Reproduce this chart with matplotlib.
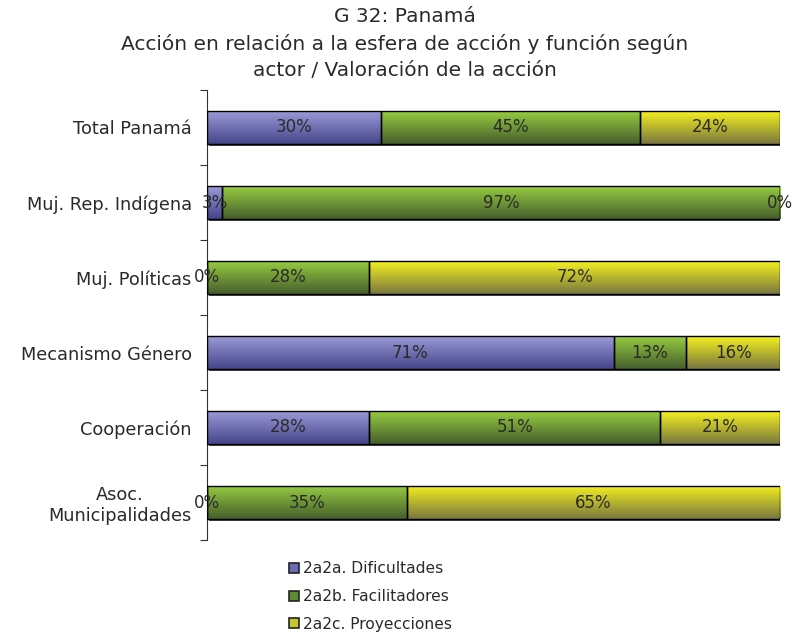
import numpy as np
import matplotlib
matplotlib.use('Agg')
import matplotlib.pyplot as plt
import matplotlib.patheffects as pe
from matplotlib.colors import LinearSegmentedColormap
from matplotlib.lines import Line2D

actores = ['Total Panamá', 'Muj. Rep. Indígena', 'Muj. Políticas',
           'Mecanismo Género', 'Cooperación', 'Asoc.\nMunicipalidades']
dificultades = [30.4, 2.6, 0.0, 71.0, 28.3, 0.0]
facilitadores = [45.2, 97.4, 28.3, 12.6, 50.8, 34.9]
proyecciones = [24.4, 0.0, 71.7, 16.4, 20.9, 65.1]
series_names = ['2a2a. Dificultades', '2a2b. Facilitadores', '2a2c. Proyecciones']

# top and bottom colour of each gradient
grad = [('#9a9ad8', '#45458a'), ('#96cc40', '#465f2c'), ('#f4f020', '#7a7840')]

plt.rcParams['font.family'] = 'DejaVu Sans'
fig = plt.figure(figsize=(8.09, 6.37), dpi=100)
ax = fig.add_axes([207/809, 1-540/637, 573/809, 450/637])

ypos = np.arange(len(actores))
h = 0.44
left = np.zeros(len(actores))
for vals, (ctop, cbot) in zip([dificultades, facilitadores, proyecciones], grad):
    cmap = LinearSegmentedColormap.from_list('g', [cbot, ctop])
    bars = ax.barh(ypos, vals, height=h, left=left, color='none', edgecolor='black',
                   linewidth=1.0, zorder=3)
    for b, v, l in zip(bars, vals, left):
        if v > 0:
            shadow = ax.barh(b.get_y() + h/2, v, height=h, left=l, color='white',
                             edgecolor='none', zorder=1)[0]
            shadow.set_path_effects([pe.SimplePatchShadow(offset=(1.5, -1.5),
                                     shadow_rgbFace='#333333', alpha=0.9)])
            im = ax.imshow(np.linspace(0, 1, 50).reshape(-1, 1), cmap=cmap,
                           aspect='auto', zorder=2,
                           extent=[l, l + v, b.get_y() + h, b.get_y()],
                           origin='lower')
            im.set_clip_path(b)
        ax.text(l + v/2, b.get_y() + h/2, f'{v:.0f}%', ha='center', va='center',
                fontsize=12, color='#2a2a2a', zorder=4)
    left = left + np.array(vals)

ax.set_xlim(0, 100)
ax.set_ylim(len(actores) - 0.5, -0.5)
for s in ['top', 'right', 'bottom']:
    ax.spines[s].set_visible(False)
ax.spines['left'].set_color('#333333')
ax.set_xticks([])
ax.set_yticks(np.arange(-0.5, len(actores), 1.0))
ax.set_yticklabels([])
ax.tick_params(axis='y', which='major', length=5, direction='out', color='#333333')
ax.set_yticks(ypos, minor=True)
ax.set_yticklabels(actores, minor=True, fontsize=12.8, color='#2a2a2a',
                   multialignment='center')
ax.tick_params(axis='y', which='minor', length=0, pad=11)

title_lines = ['G 32: Panamá',
               'Acción en relación a la esfera de acción y función según',
               'actor / Valoración de la acción']
for yy, line in zip([17, 44, 71], title_lines):
    fig.text(0.5, 1-yy/637, line, ha='center', va='center', fontsize=14.5, color='#2a2a2a')

handles = [Line2D([], [], marker='s', linestyle='none', markersize=7,
                  markerfacecolor=c, markeredgecolor='#222222', markeredgewidth=1.2)
           for c in ['#6a6ab0', '#5e8a34', '#c8c430']]
fig.legend(handles, series_names, loc='upper left', bbox_to_anchor=(280/809, 1-555/637),
           frameon=False, fontsize=11.2, handletextpad=0.1, labelspacing=0.82,
           borderaxespad=0, handlelength=1.0, labelcolor='#2a2a2a')

fig.savefig('out.png', dpi=100)
